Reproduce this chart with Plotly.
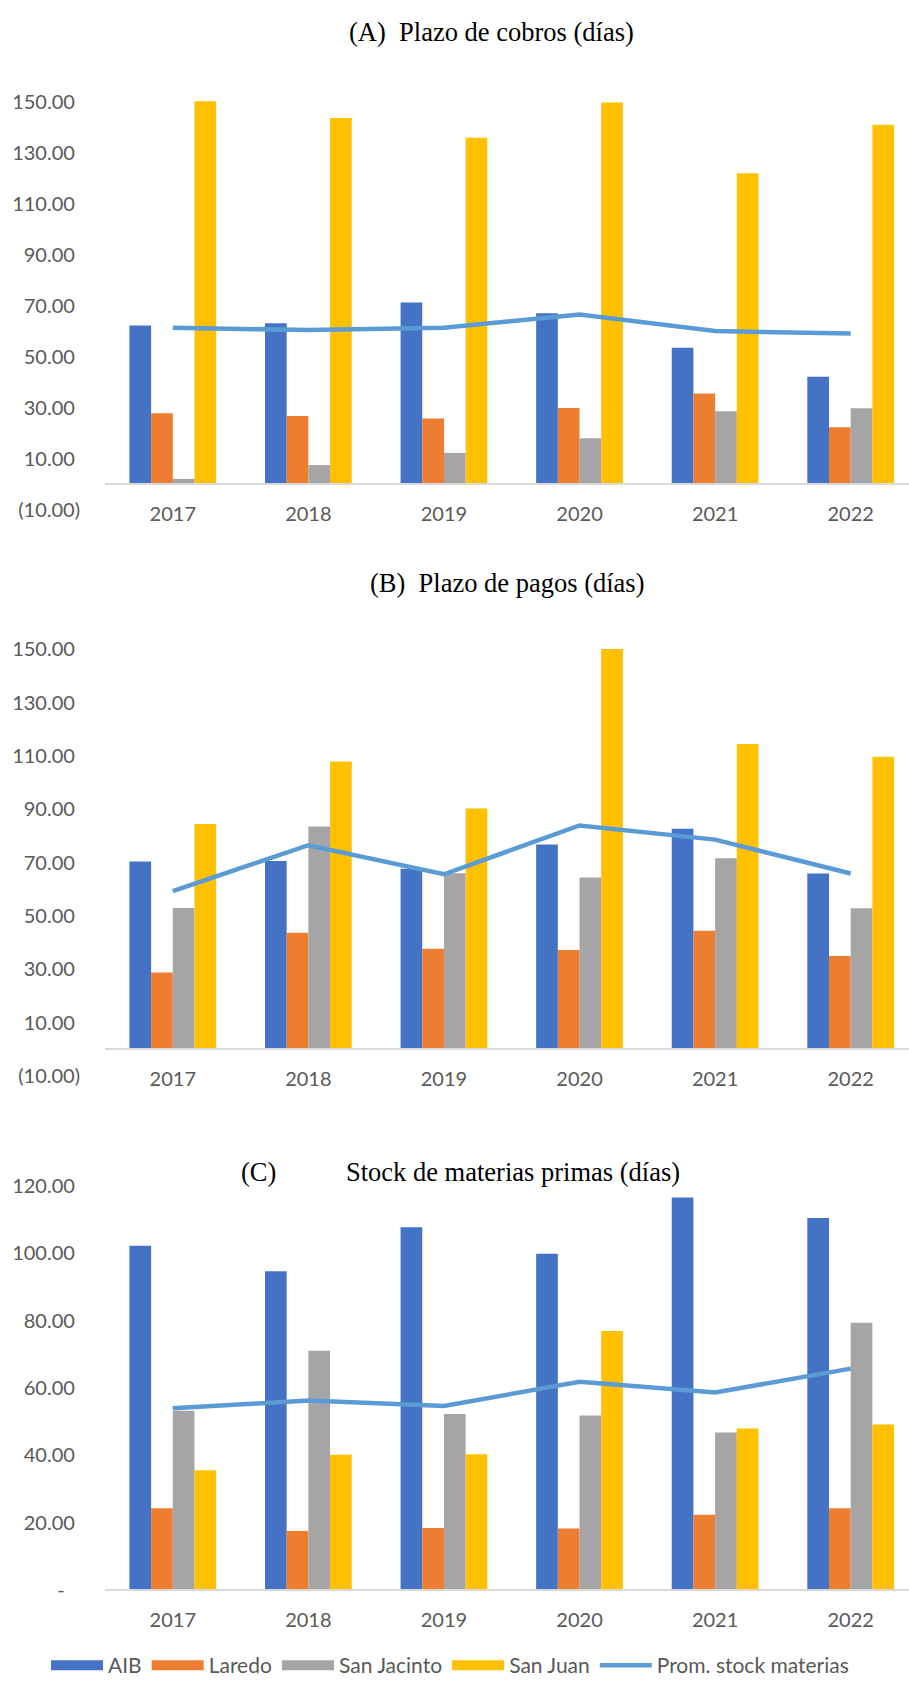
import plotly.graph_objects as go

W, H = 909, 1697

years = ["2017", "2018", "2019", "2020", "2021", "2022"]
series_names = ["AIB", "Laredo", "San Jacinto", "San Juan"]
line_name = "Prom. stock materias"

# (A) Plazo de cobros (días)
cobros_aib = [62.4, 63.3, 71.4, 67.2, 53.6, 42.3]
cobros_laredo = [27.9, 26.9, 25.9, 30.0, 35.7, 22.4]
cobros_sanjacinto = [2.2, 7.6, 12.4, 18.1, 28.7, 29.9]
cobros_sanjuan = [150.4, 143.8, 136.1, 149.9, 122.1, 141.2]
cobros_prom = [61.5, 60.6, 61.5, 66.7, 60.2, 59.2]

# (B) Plazo de pagos (días)
pagos_aib = [70.5, 70.7, 67.8, 76.9, 82.8, 66.0]
pagos_laredo = [28.9, 43.8, 37.8, 37.3, 44.5, 35.1]
pagos_sanjacinto = [53.1, 83.6, 66.1, 64.5, 71.7, 53.0]
pagos_sanjuan = [84.6, 108.0, 90.4, 150.2, 114.6, 109.8]
pagos_prom = [59.4, 76.6, 65.7, 84.0, 78.7, 66.0]

# (C) Stock de materias primas (días)
stock_aib = [102.3, 94.7, 107.8, 99.9, 116.6, 110.5]
stock_laredo = [24.3, 17.6, 18.5, 18.3, 22.4, 24.3]
stock_sanjacinto = [53.3, 71.1, 52.3, 51.9, 46.8, 79.4]
stock_sanjuan = [35.6, 40.2, 40.4, 77.0, 48.0, 49.2]
stock_prom = [54.0, 56.3, 54.7, 61.9, 58.7, 65.8]

ticks_ab = [-10, 10, 30, 50, 70, 90, 110, 130, 150]
ticks_c = [0, 20, 40, 60, 80, 100, 120]

colors = ["#4472C4", "#ED7D31", "#A5A5A5", "#FFC000"]
line_color = "#5B9BD5"
tick_color = "#595959"
TICK_FONT = dict(family="Lato", size=20, color=tick_color)


def fmt(v):
    if v < 0:
        return "({:.2f})".format(abs(v))
    if v == 0:
        return "-\u00a0\u00a0\u00a0"
    return "{:.2f}\u00a0".format(v)


def py(p):
    return 1 - p / H


panels = [
    dict(data=[cobros_aib, cobros_laredo, cobros_sanjacinto, cobros_sanjuan], prom=cobros_prom,
         yrange=[-10, 160], zero=480.4, ppu=2.58, ticks=ticks_ab),
    dict(data=[pagos_aib, pagos_laredo, pagos_sanjacinto, pagos_sanjuan], prom=pagos_prom,
         yrange=[-10, 160], zero=1052.5, ppu=2.70, ticks=ticks_ab),
    dict(data=[stock_aib, stock_laredo, stock_sanjacinto, stock_sanjuan], prom=stock_prom,
         yrange=[0, 121], zero=1600.0, ppu=3.41, ticks=ticks_c),
]

fig = go.Figure()
layout = {}
for i, p in enumerate(panels):
    n = "" if i == 0 else str(i + 1)
    xa, ya = "x" + n, "y" + n
    for name, vals, c in zip(series_names, p["data"], colors):
        fig.add_trace(go.Bar(x=years, y=vals, name=name, marker=dict(color=c, line=dict(width=0)),
                             xaxis=xa, yaxis=ya, showlegend=False))
    fig.add_trace(go.Scatter(x=years, y=p["prom"], name=line_name, mode="lines",
                             line=dict(color=line_color, width=4.5), xaxis=xa, yaxis=ya,
                             showlegend=False))
    lo, hi = p["yrange"]
    bottom_px = p["zero"] + (0 - lo) * p["ppu"]
    top_px = p["zero"] - hi * p["ppu"]
    layout["yaxis" + n] = dict(domain=[py(bottom_px), py(top_px)], range=p["yrange"],
                               anchor=xa, showgrid=False, zeroline=False, showline=False,
                               tickvals=p["ticks"], ticktext=[fmt(v) for v in p["ticks"]],
                               tickfont=TICK_FONT, ticks="", ticklabelstandoff=24)
    layout["xaxis" + n] = dict(domain=[105 / W, 1.0], type="category", range=[-0.5, 5.43],
                               anchor="free", position=py(p["zero"]), showgrid=False,
                               showline=True, linecolor="#D9D9D9", linewidth=1.5,
                               ticks="", tickfont=TICK_FONT, ticklabelstandoff=12)

# legend entries
for name, c in zip(series_names, colors):
    fig.add_trace(go.Scatter(x=[None], y=[None], mode="lines", name=name,
                             line=dict(color=c, width=14), showlegend=True))
fig.add_trace(go.Scatter(x=[None], y=[None], mode="lines", name=line_name,
                         line=dict(color=line_color, width=4.5), showlegend=True))

TITLE_FONT = dict(family="Liberation Serif", size=26.5, color="black")
annotations = [
    dict(text="(A)\u00a0\u00a0Plazo de cobros (días)", x=491 / W, y=py(22), xref="paper", yref="paper",
         showarrow=False, font=TITLE_FONT, xanchor="center", yanchor="middle"),
    dict(text="(B)\u00a0\u00a0Plazo de pagos (días)", x=507 / W, y=py(580), xref="paper", yref="paper",
         showarrow=False, font=TITLE_FONT, xanchor="center", yanchor="middle"),
    dict(text="(C)", x=258 / W, y=py(1177), xref="paper", yref="paper",
         showarrow=False, font=TITLE_FONT, xanchor="center", yanchor="middle"),
    dict(text="Stock de materias primas (días)", x=513 / W, y=py(1177), xref="paper", yref="paper",
         showarrow=False, font=TITLE_FONT, xanchor="center", yanchor="middle"),
]

fig.update_layout(
    width=W, height=H, margin=dict(l=0, r=0, t=0, b=0),
    paper_bgcolor="white", plot_bgcolor="white",
    barmode="group", bargap=0.36, bargroupgap=0,
    annotations=annotations,
    legend=dict(orientation="h", x=46 / W, y=0.0, xanchor="left", yanchor="bottom",
                font=dict(family="Lato", size=21, color=tick_color), itemwidth=52,
                traceorder="normal", bgcolor="rgba(0,0,0,0)"),
    **layout,
)

fig.write_html("out.html", config={"displayModeBar": False},
               post_script="document.body.style.margin='0';document.body.style.overflow='hidden';")
